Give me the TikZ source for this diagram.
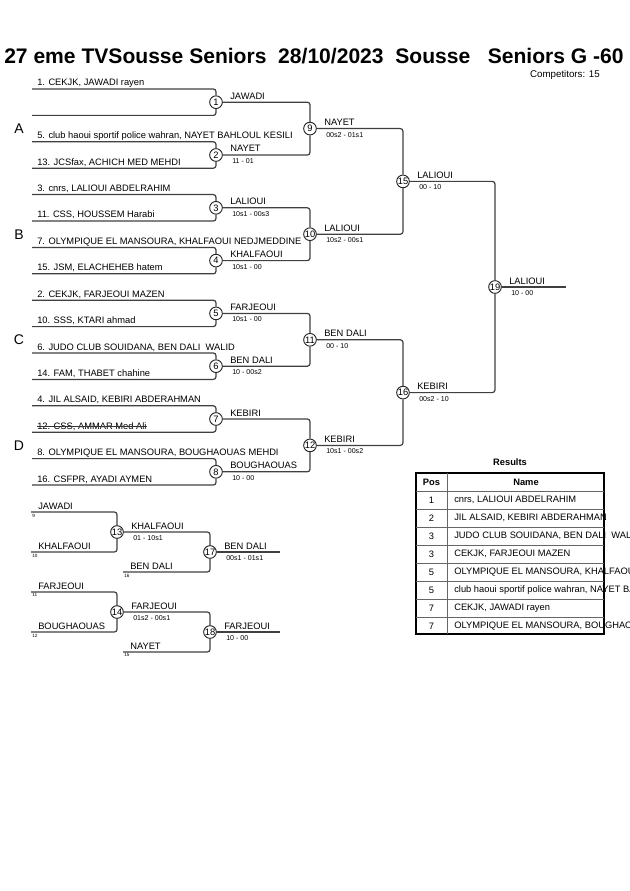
\documentclass[tikz,border=0pt]{standalone}
\usepackage{fontspec}
\setmainfont{Liberation Sans}
\usetikzlibrary{calc}
\newcommand\fsz[1]{\fontsize{#1}{#1}\selectfont}
\tikzset{%
  bracket line/.style={draw=black!75,line width=0.9pt,rounded corners=2pt},
  match/.style={circle,draw=black!85,line width=0.7pt,fill=white,inner sep=0pt,
    minimum size=9.5pt,font=\fsz{7}},
  entry/.style={anchor=base west,inner sep=0pt,font=\fsz{7}},
  score/.style={anchor=base west,inner sep=0pt,font=\fsz{5.3}},
  seed/.style={anchor=north west,inner sep=0pt,font=\fsz{3.5}},
  pool/.style={inner sep=0pt,font=\fsz{10.5}},
  cell/.style={inner sep=0pt,font=\fsz{7}},
  table rule/.style={draw=black!60,line width=0.7pt}%
}

\begin{document}
\begin{tikzpicture}[x=0.75pt,y=-0.75pt] % one unit = one pixel of the sheet

\useasboundingbox (0,0) rectangle (630,891);
\def\rowH{26.4} % distance of two entry lines
\def\colA{216} % x of the first round

% title
\node[anchor=base west,inner sep=0pt,font=\fsz{15.8}\bfseries] (title) at (4,64)
  {27 eme TVSousse Seniors~~28/10/2023~~Sousse~~~Seniors G -60};
\node[anchor=base east,inner sep=0pt,font=\fsz{7.3}] (count) at (600,78) {Competitors: 15};

% entry lines of the main draw
\foreach \k in {0,...,15}
  \coordinate (l\k) at (32,{89+\rowH*\k});
\foreach \k/\txt in {0/{1. CEKJK, JAWADI rayen},
    2/{5. club haoui sportif police wahran, NAYET BAHLOUL KESILI},
    3/{13. JCSfax, ACHICH MED MEHDI},4/{3. cnrs, LALIOUI ABDELRAHIM},
    5/{11. CSS, HOUSSEM Harabi},6/{7. OLYMPIQUE EL MANSOURA, KHALFAOUI NEDJMEDDINE},
    7/{15. JSM, ELACHEHEB hatem},8/{2. CEKJK, FARJEOUI MAZEN},
    9/{10. SSS, KTARI ahmad},10/{6. JUDO CLUB SOUIDANA, BEN DALI~~WALID},
    11/{14. FAM, THABET chahine},12/{4. JIL ALSAID, KEBIRI ABDERAHMAN},
    13/{12. CSS, AMMAR Med Ali},14/{8. OLYMPIQUE EL MANSOURA, BOUGHAOUAS MEHDI},
    15/{16. CSFPR, AYADI AYMEN}}
  \node[entry] (e\k) at ($(l\k)+(5,-3)$) {\txt};
\draw[black!80,line width=0.5pt] (e13.west) -- (e13.east); % withdrawn

% first round
\foreach \m in {1,...,8} {
  \pgfmathtruncatemacro\a{2*\m-2}
  \pgfmathtruncatemacro\b{2*\m-1}
  \node[match] (m\m) at (\colA,{89+\rowH*(2*\m-1.5)}) {\m};
  \draw[bracket line] (l\a) -| (m\m.north);
  \draw[bracket line] (l\b) -| (m\m.south);
}

% next rounds up to the final
\foreach \m/\a/\b/\dx in {9/1/2/94,10/3/4/94,11/5/6/94,12/7/8/94,
    15/9/10/93,16/11/12/93,19/15/16/92} {
  \node[match] (m\m) at ($(m\a)!.5!(m\b)+(\dx,0)$) {\m};
  \draw[bracket line] (m\a.east) -| (m\m.north);
  \draw[bracket line] (m\b.east) -| (m\m.south);
}
\coordinate (champion) at ($(m19)+(71,0)$);
\draw[bracket line] (m19.east) -- (champion);

% pools
\foreach \p/\m in {A/9,B/10,C/11,D/12}
  \node[pool] (pool\p) at ($(m\m)+(-291,0)$) {\p};

% repechage
\coordinate (r9) at (31,512);
\coordinate (r10) at (31,552);
\coordinate (r11) at (31,592);
\coordinate (r12) at (31,632);
\coordinate (r16) at (123,572);
\coordinate (r15) at (123,652);
\node[match] (m13) at (117,532) {13};
\node[match] (m14) at (117,612) {14};
\node[match] (m17) at (210,552) {17};
\node[match] (m18) at (210,632) {18};
\coordinate (bronze17) at (280,552);
\coordinate (bronze18) at (280,632);
\draw[bracket line] (r9) -| (m13.north);
\draw[bracket line] (r10) -| (m13.south);
\draw[bracket line] (r11) -| (m14.north);
\draw[bracket line] (r12) -| (m14.south);
\draw[bracket line] (m13.east) -| (m17.north);
\draw[bracket line] (r16) -| (m17.south);
\draw[bracket line] (m14.east) -| (m18.north);
\draw[bracket line] (r15) -| (m18.south);
\draw[bracket line] (m17.east) -- (bronze17);
\draw[bracket line] (m18.east) -- (bronze18);
\foreach \r/\txt in {9/JAWADI,10/KHALFAOUI,11/FARJEOUI,12/BOUGHAOUAS,16/{BEN DALI},15/NAYET} {
  \node[entry] (n\r) at ($(r\r)+(7,-3)$) {\txt};
  \node[seed] (seed\r) at ($(r\r)+(1,1.5)$) {\r};
}

% winners and scores
\foreach \m/\txt in {1/JAWADI,2/NAYET,3/LALIOUI,4/KHALFAOUI,5/FARJEOUI,6/{BEN DALI},
    7/KEBIRI,8/BOUGHAOUAS,9/NAYET,10/LALIOUI,11/{BEN DALI},12/KEBIRI,15/LALIOUI,
    16/KEBIRI,19/LALIOUI,13/KHALFAOUI,14/FARJEOUI,17/{BEN DALI},18/FARJEOUI}
  \node[entry] (w\m) at ($(m\m)+(14,-3)$) {\txt};
\foreach \m/\res in {2/{11 - 01},3/{10s1 - 00s3},4/{10s1 - 00},5/{10s1 - 00},
    6/{10 - 00s2},8/{10 - 00},9/{00s2 - 01s1},10/{10s2 - 00s1},11/{00 - 10},
    12/{10s1 - 00s2},15/{00 - 10},16/{00s2 - 10},19/{10 - 00},13/{01 - 10s1},
    14/{01s2 - 00s1},17/{00s1 - 01s1},18/{10 - 00}}
  \node[score] (s\m) at ($(m\m)+(16,8.5)$) {\res};

% results
\node[cell,font=\fsz{7}\bfseries] (results) at (510,462) {Results};
\draw[line width=1.5pt] (416,473) rectangle (604,634);
\foreach \y in {491,509,...,617}
  \draw[table rule] (416,\y) -- (604,\y);
\draw[table rule] (447,473) -- (447,634);
\node[cell,font=\fsz{7}\bfseries] (pos) at (431.5,482) {Pos};
\node[cell,font=\fsz{7}\bfseries] (name) at (526,482) {Name};
\begin{scope}
\clip (0,0) rectangle (630,891);
\foreach \i/\p/\txt in {1/1/{cnrs, LALIOUI ABDELRAHIM},2/2/{JIL ALSAID, KEBIRI ABDERAHMAN},
    3/3/{JUDO CLUB SOUIDANA, BEN DALI~~WALID},4/3/{CEKJK, FARJEOUI MAZEN},
    5/5/{OLYMPIQUE EL MANSOURA, KHALFAOUI NEDJMEDDINE},
    6/5/{club haoui sportif police wahran, NAYET BAHLOUL KESILI},
    7/7/{CEKJK, JAWADI rayen},8/7/{OLYMPIQUE EL MANSOURA, BOUGHAOUAS MEHDI}} {
  \node[cell] (p\i) at (431.5,{482+18*\i}) {\p};
  \node[cell,anchor=west] (r\i) at (454,{482+18*\i}) {\txt};
}
\end{scope}

\end{tikzpicture}
\end{document}
